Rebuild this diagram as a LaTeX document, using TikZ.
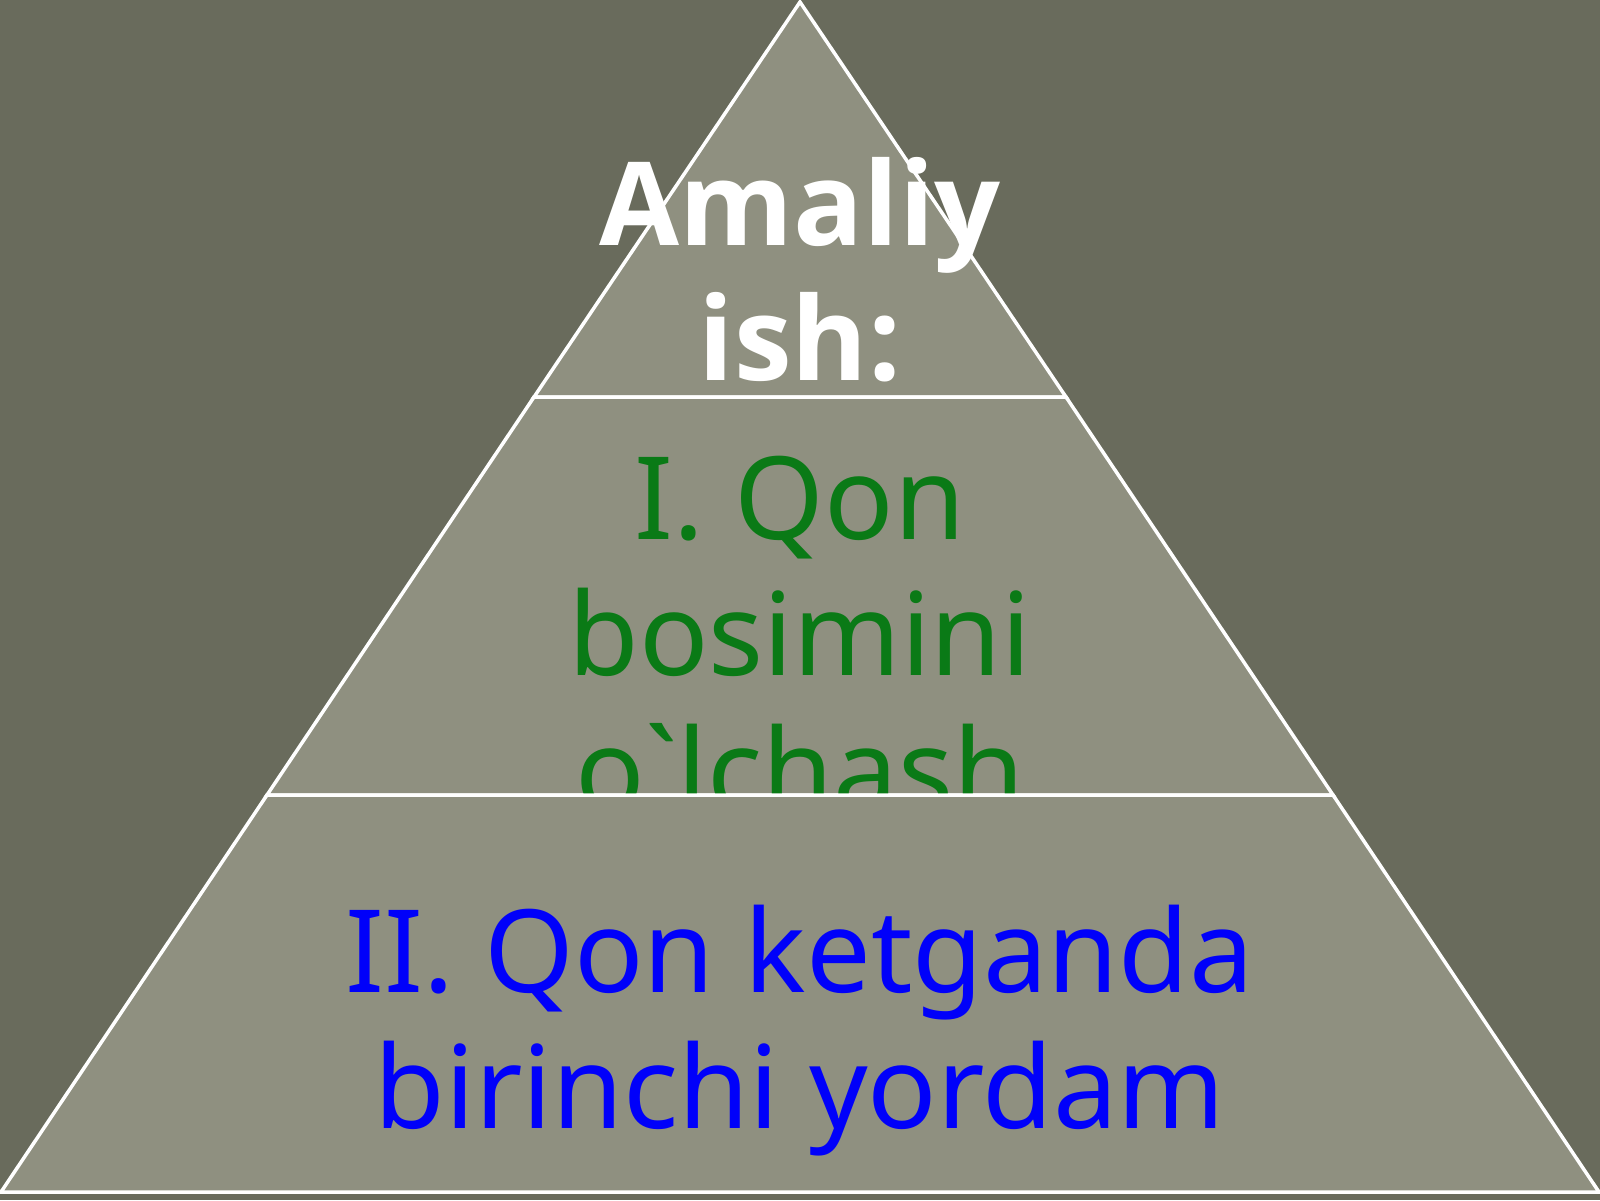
\documentclass[tikz,border=0pt]{standalone}
\usepackage{fontspec}
\setmainfont{Noto Sans}
\newfontfamily\titlefont{Open Sans}
\definecolor{bgc}{RGB}{105,107,92}
\definecolor{segc}{RGB}{143,144,128}
\definecolor{grn}{RGB}{10,122,22}
\definecolor{blu}{RGB}{0,0,250}
\tikzset{
  seg/.style={fill=segc,draw=white,line width=3.5pt,line join=miter},
  txt/.style={anchor=base,inner sep=0pt,font=\fontsize{115}{136}\selectfont},
  ttl/.style={anchor=base,inner sep=0pt,text=white,font=\titlefont\fontsize{116}{136}\selectfont\bfseries},
}
\begin{document}
\begin{tikzpicture}[x=1pt,y=-1pt]
\fill[bgc] (0,0) rectangle (1600,1200);
\useasboundingbox (0,0) rectangle (1600,1200);
% segments
\coordinate (apex) at (800,2);
\coordinate (l1) at (534,397);
\coordinate (r1) at (1066,397);
\coordinate (l2) at (267,795);
\coordinate (r2) at (1333,795);
\coordinate (bl) at (1,1192);
\coordinate (br) at (1599,1192);
\draw[seg] (apex) -- (r1) -- (l1) -- cycle;
\draw[seg] (l1) -- (r1) -- (r2) -- (l2) -- cycle;
% middle text (clipped to its segment)
\begin{scope}
\clip (l1) -- (r1) -- (r2) -- (l2) -- cycle;
\node[txt,text=grn] (m1) at (800,539) {I. Qon};
\node[txt,text=grn] (m2) at (800,675) {bosimini};
\node[txt,text=grn] (m3) at (800,811) {o\textasciigrave lchash};
\end{scope}
\draw[seg] (l2) -- (r2) -- (br) -- (bl) -- cycle;
% top text
\node[ttl] (t1) at (800,245) {Amaliy};
\node[ttl] (t2) at (800,380) {ish:};
% bottom text
\node[txt,text=blu] (b1) at (800,992) {II. Qon ketganda};
\node[txt,text=blu] (b2) at (800,1128) {birinchi yordam};
\end{tikzpicture}
\end{document}
